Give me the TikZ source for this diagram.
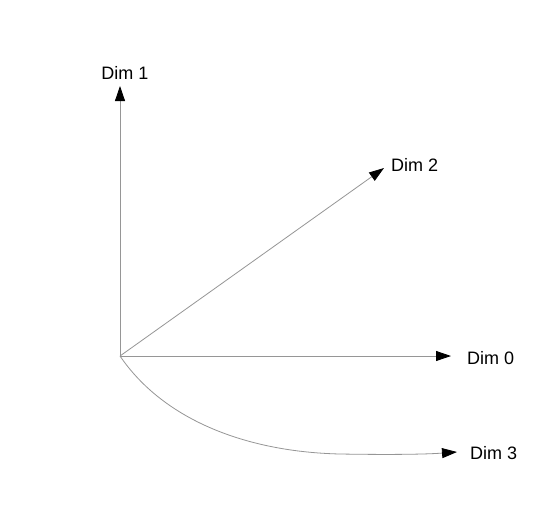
\documentclass[tikz,border=0pt]{standalone}
\usepackage{fontspec}
\setmainfont{Liberation Sans}
\usetikzlibrary{arrows.meta}
\definecolor{axisgray}{RGB}{150,150,150}
\tikzset{
  axis/.style={draw=axisgray,line width=0.8pt,-{Triangle[length=15pt,width=10pt,color=black,fill=black]}},
  dimlabel/.style={font=\fontsize{18}{20}\selectfont,inner sep=0pt}
}
\begin{document}
\begin{tikzpicture}[x=1pt,y=-1pt]
\useasboundingbox[fill=white] (0,0) rectangle (542,515);
\coordinate (o) at (120,356);
\coordinate (t1) at (120,86);
\coordinate (t2) at (384,168);
\coordinate (t0) at (451,356);
\coordinate (t3) at (457,452);
\node[dimlabel] (l1) at (125,73) {Dim 1};
\node[dimlabel,anchor=west] (l2) at (391,165) {Dim 2};
\node[dimlabel,anchor=west] (l0) at (467,358) {Dim 0};
\node[dimlabel,anchor=west] (l3) at (470,453) {Dim 3};
\draw[axis] (o) -- (t1);
\draw[axis] (o) -- (t2);
\draw[axis] (o) -- (t0);
\draw[axis] (o) .. controls (165,422) and (250,452) .. (340,454) .. controls (400,455) and (430,454) .. (t3);
\end{tikzpicture}
\end{document}
